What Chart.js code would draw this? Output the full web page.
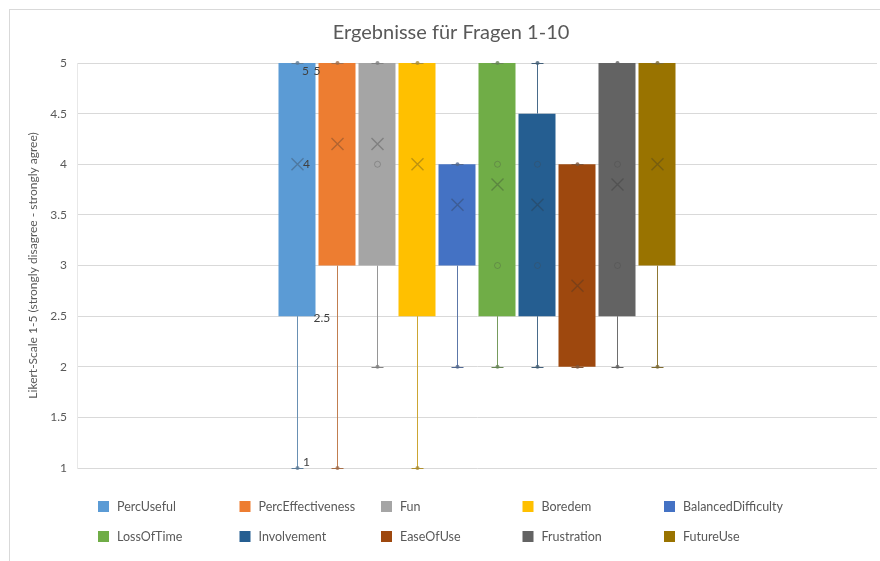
<!DOCTYPE html>
<html>
<head>
<meta charset="utf-8">
<script src="https://cdn.jsdelivr.net/npm/chart.js@4/dist/chart.umd.min.js"></script>
<style>
  html, body { margin: 0; padding: 0; background: #ffffff; }
  #wrap { width: 880px; height: 561px; position: relative; }
</style>
</head>
<body>
<div id="wrap"><canvas id="c" width="880" height="561"></canvas></div>
<script>
// Survey answers, Likert scale 1-5, one box per question
const seriesNames = ['PercUseful', 'PercEffectiveness', 'Fun', 'Boredem', 'BalancedDifficulty',
                     'LossOfTime', 'Involvement', 'EaseOfUse', 'Frustration', 'FutureUse'];
const minVals  = [1,   1,   2,   1,   2,   2,   2,   2,   2,   2];
const q1Vals   = [2.5, 3,   3,   2.5, 3,   2.5, 2.5, 2,   2.5, 3];
const q3Vals   = [5,   5,   5,   5,   4,   5,   4.5, 4,   5,   5];
const maxVals  = [5,   5,   5,   5,   4,   5,   5,   4,   5,   5];
const meanVals = [4,   4.2, 4.2, 4,   3.6, 3.8, 3.6, 2.8, 3.8, 4];
const innerPts = [[], [], [4], [], [], [4, 3], [4, 3], [], [4, 3], []];
const yTicks   = [1, 1.5, 2, 2.5, 3, 3.5, 4, 4.5, 5];
const titleText = 'Ergebnisse für Fragen 1-10';
const yTitleText = 'Likert-Scale 1-5 (strongly disagree - strongly agree)';

const colors = ['#5B9BD5', '#ED7D31', '#A5A5A5', '#FFC000', '#4472C4',
                '#70AD47', '#255E91', '#9E480E', '#636363', '#997300'];
const FONT = 'Lato, "Open Sans", sans-serif';

function blend(hex, other, t) {
  const a = parseInt(hex.slice(1), 16), b = parseInt(other.slice(1), 16);
  const r = Math.round(((a >> 16) & 255) * (1 - t) + ((b >> 16) & 255) * t);
  const g = Math.round(((a >> 8) & 255) * (1 - t) + ((b >> 8) & 255) * t);
  const bl = Math.round((a & 255) * (1 - t) + (b & 255) * t);
  return `rgb(${r},${g},${bl})`;
}

const datasets = seriesNames.map((name, i) => ({
  label: name,
  data: [[q1Vals[i], q3Vals[i]]],
  backgroundColor: colors[i],
  borderWidth: 0,
  barPercentage: 0.925,
  categoryPercentage: 0.5
}));

// whiskers, caps, inner points, mean markers and value labels
const boxExtras = {
  id: 'boxExtras',
  afterDatasetsDraw(chart) {
    const ctx = chart.ctx, y = chart.scales.y;
    ctx.save();
    seriesNames.forEach((name, i) => {
      const bar = chart.getDatasetMeta(i).data[0];
      const cx = Math.round(bar.x) + 0.5;
      const wc = blend(colors[i], '#7f7f7f', 0.4);
      const yMin = y.getPixelForValue(minVals[i]);
      const yMax = y.getPixelForValue(maxVals[i]);
      const yQ1 = y.getPixelForValue(q1Vals[i]);
      const yQ3 = y.getPixelForValue(q3Vals[i]);
      ctx.strokeStyle = wc;
      ctx.lineWidth = 1;
      ctx.beginPath();
      if (minVals[i] < q1Vals[i]) { ctx.moveTo(cx, yQ1); ctx.lineTo(cx, yMin); }
      if (maxVals[i] > q3Vals[i]) { ctx.moveTo(cx, yQ3); ctx.lineTo(cx, yMax); }
      ctx.stroke();
      // caps
      ctx.strokeStyle = blend(colors[i], '#606060', 0.5);
      ctx.beginPath();
      [yMin, yMax].forEach(py => { ctx.moveTo(cx - 6, Math.round(py) + 0.5); ctx.lineTo(cx + 6, Math.round(py) + 0.5); });
      ctx.stroke();
      ctx.fillStyle = blend(colors[i], '#606060', 0.55);
      ctx.globalAlpha = 0.8;
      [yMin, yMax].forEach(py => {
        ctx.beginPath(); ctx.arc(cx, py, 2, 0, Math.PI * 2); ctx.fill();
      });
      ctx.globalAlpha = 1;
      // inner points
      ctx.strokeStyle = 'rgba(70,70,70,0.3)';
      ctx.lineWidth = 1;
      innerPts[i].forEach(v => {
        ctx.beginPath(); ctx.arc(cx, y.getPixelForValue(v), 3, 0, Math.PI * 2); ctx.stroke();
      });
      // mean marker
      const ym = y.getPixelForValue(meanVals[i]);
      ctx.strokeStyle = blend(colors[i], '#303030', 0.45);
      ctx.globalAlpha = 0.7;
      ctx.lineWidth = 1.4;
      ctx.beginPath();
      ctx.moveTo(cx - 6, ym - 6); ctx.lineTo(cx + 6, ym + 6);
      ctx.moveTo(cx + 6, ym - 6); ctx.lineTo(cx - 6, ym + 6);
      ctx.stroke();
      ctx.globalAlpha = 1;
    });
    // value labels of the first box
    const b0 = chart.getDatasetMeta(0).data[0];
    const c0 = b0.x, right0 = b0.x + b0.width / 2;
    ctx.fillStyle = '#404040';
    ctx.font = '12px ' + FONT;
    ctx.textBaseline = 'middle';
    ctx.textAlign = 'left';
    ctx.fillText(String(maxVals[0]), c0 + 5, y.getPixelForValue(maxVals[0]) + 8);
    ctx.fillText(String(q3Vals[0]), right0 - 2, y.getPixelForValue(q3Vals[0]) + 8);
    ctx.fillText(String(meanVals[0]), c0 + 6, y.getPixelForValue(meanVals[0]));
    ctx.fillText(String(q1Vals[0]), right0 - 2, y.getPixelForValue(q1Vals[0]) + 2);
    ctx.fillText(String(minVals[0]), c0 + 6, y.getPixelForValue(minVals[0]) - 6);
    ctx.restore();
  }
};

// frame, title, axis title and legend
const decorations = {
  id: 'decorations',
  beforeDraw(chart) {
    const ctx = chart.ctx;
    ctx.save();
    ctx.fillStyle = '#ffffff';
    ctx.fillRect(0, 0, chart.width, chart.height);
    ctx.strokeStyle = '#d9d9d9';
    ctx.lineWidth = 1;
    ctx.strokeRect(9.5, 9.5, chart.width + 20, chart.height + 20);
    ctx.restore();
  },
  afterDraw(chart) {
    const ctx = chart.ctx, area = chart.chartArea;
    ctx.save();
    ctx.fillStyle = '#595959';
    ctx.textAlign = 'center';
    ctx.textBaseline = 'middle';
    ctx.font = '20px ' + FONT;
    ctx.fillText(titleText, (area.left + area.right) / 2 - 26, 33);

    ctx.font = '12px ' + FONT;
    ctx.translate(33, (area.top + area.bottom) / 2);
    ctx.rotate(-Math.PI / 2);
    ctx.fillText(yTitleText, 0, 0);
    ctx.restore();

    ctx.save();
    ctx.font = '12.5px ' + FONT;
    ctx.textAlign = 'left';
    ctx.textBaseline = 'middle';
    seriesNames.forEach((name, i) => {
      const col = i % 5, row = Math.floor(i / 5);
      const x = 98 + col * 141.5, yy = 507 + row * 30;
      ctx.fillStyle = colors[i];
      ctx.fillRect(x, yy - 6, 11, 11);
      ctx.fillStyle = '#595959';
      ctx.fillText(name, x + 19, yy);
    });
    ctx.restore();
  }
};

new Chart(document.getElementById('c'), {
  type: 'bar',
  data: { labels: [''], datasets },
  options: {
    responsive: false,
    animation: false,
    devicePixelRatio: 1,
    layout: { padding: { left: 22, top: 63, right: 3, bottom: 93 } },
    plugins: { legend: { display: false }, title: { display: false }, tooltip: { enabled: false } },
    scales: {
      x: { display: false, offset: true },
      y: {
        min: 1, max: 5,
        afterFit(s) { s.width = 55; },
        afterBuildTicks(s) { s.ticks = yTicks.map(v => ({ value: v })); },
        ticks: {
          color: '#595959', font: { family: FONT, size: 12 }, padding: 10,
          callback: (v) => String(v)
        },
        grid: { color: '#d9d9d9', drawTicks: false },
        border: { display: true, color: '#e8e8e8' }
      }
    }
  },
  plugins: [decorations, boxExtras]
});
</script>
</body>
</html>
